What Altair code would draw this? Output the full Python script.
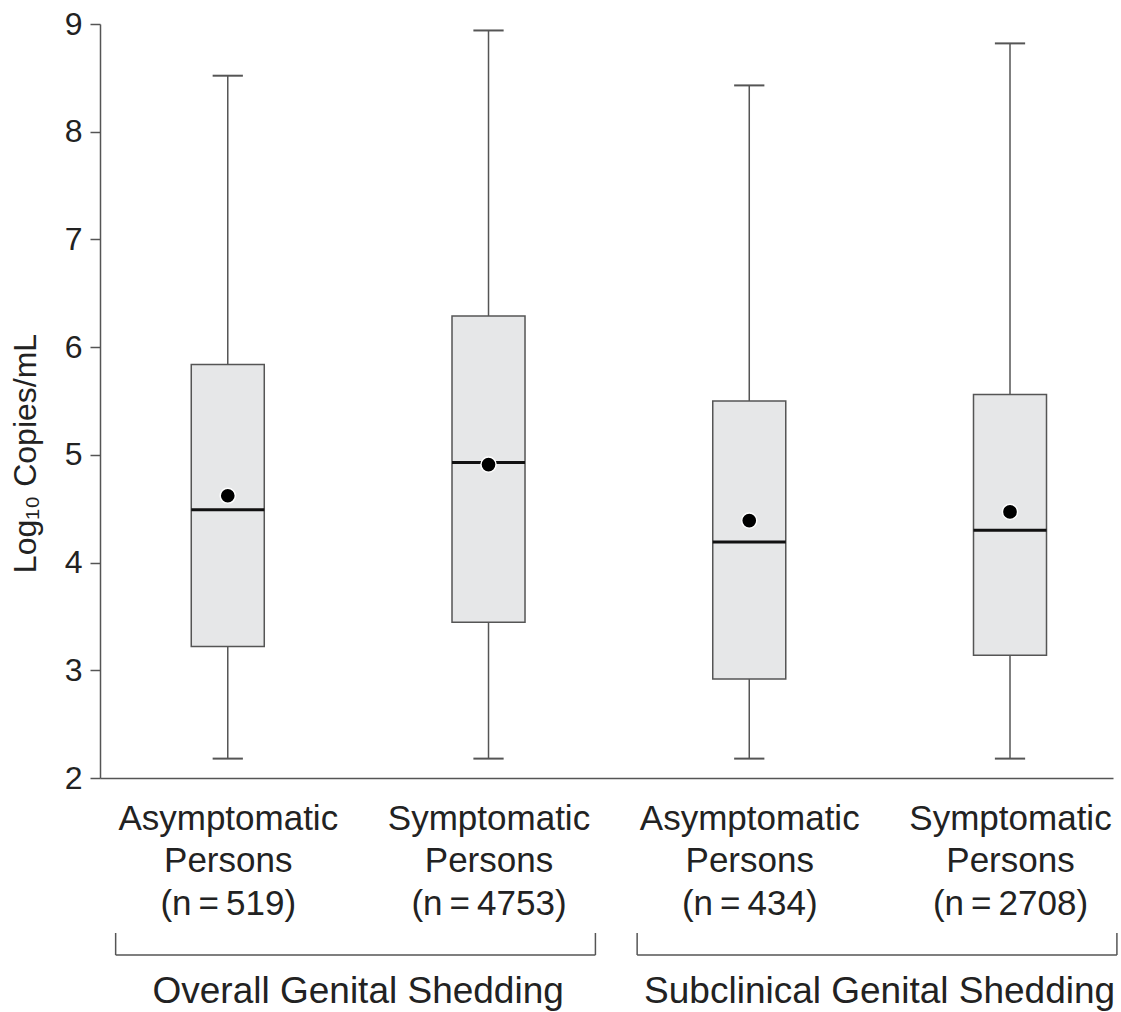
import altair as alt
import pandas as pd

# ---- data ----
line1 = ["Asymptomatic", "Symptomatic", "Asymptomatic", "Symptomatic"]
line2 = ["Persons", "Persons", "Persons", "Persons"]
n_values = [519, 4753, 434, 2708]
whisker_low = [2.18, 2.18, 2.18, 2.18]
q1 = [3.22, 3.445, 2.92, 3.14]
median = [4.49, 4.93, 4.19, 4.30]
mean = [4.62, 4.91, 4.39, 4.47]
q3 = [5.84, 6.29, 5.50, 5.56]
whisker_high = [8.52, 8.94, 8.43, 8.82]

group_names = ["Overall Genital Shedding", "Subclinical Genital Shedding"]
group_first = [0, 2]
group_last = [1, 3]

# ---- layout / style ----
W, H = 1013, 754
FONT = "Liberation Sans"
TXT = "#222222"
GRAY = "#555555"
BOX_HALF = 0.14
CAP_HALF = 0.058

df = pd.DataFrame({
    "idx": list(range(len(line1))),
    "lo": whisker_low, "q1": q1, "med": median, "mean": mean,
    "q3": q3, "hi": whisker_high,
})
gdf = pd.DataFrame({"group": group_names, "first": group_first, "last": group_last})

labels_js = "[" + ",".join(
    "['%s','%s','(n\u2009=\u2009%d)']" % (a, b, n) for a, b, n in zip(line1, line2, n_values)
) + "]"

x_scale = alt.Scale(domain=[-0.49, 3.395], nice=False, zero=False)
y_scale = alt.Scale(domain=[2, 9], nice=False, zero=False)

x_axis = alt.Axis(
    values=[0, 1, 2, 3], labelExpr=labels_js + "[datum.value]", ticks=False,
    title=None, grid=False, domainColor=GRAY, domainWidth=1.5,
    labelFontSize=35, labelLineHeight=42.5, labelPadding=23, labelBaseline="top",
    labelColor=TXT, labelFont=FONT, labelFlush=False, labelOverlap=False,
    labelLimit=0,
)
y_axis = alt.Axis(
    values=list(range(2, 10)), title="Log\u2081\u2080 Copies/mL", grid=False,
    domainColor=GRAY, domainWidth=1.5, tickColor=GRAY, tickWidth=1.5, tickSize=10,
    labelFontSize=32, labelPadding=8, labelColor=TXT, labelFont=FONT,
    titleFontSize=32, titleFont=FONT, titleFontWeight="normal", titleColor=TXT,
    titlePadding=22, titleY=429,
)


def X(field):
    return alt.X(field, type="quantitative", scale=x_scale, axis=x_axis)


def Y(field):
    return alt.Y(field, type="quantitative", scale=y_scale, axis=y_axis)


base = alt.Chart(df).transform_calculate(
    bl=f"datum.idx - {BOX_HALF}", br=f"datum.idx + {BOX_HALF}",
    cl=f"datum.idx - {CAP_HALF}", cr=f"datum.idx + {CAP_HALF}",
)

whisk_low = base.mark_rule(color=GRAY, strokeWidth=1.5).encode(x=X("idx"), y=Y("lo"), y2="q1")
whisk_high = base.mark_rule(color=GRAY, strokeWidth=1.5).encode(x=X("idx"), y=Y("q3"), y2="hi")
cap_low = base.mark_rule(color=GRAY, strokeWidth=2).encode(x=X("cl"), x2="cr", y=Y("lo"))
cap_high = base.mark_rule(color=GRAY, strokeWidth=2).encode(x=X("cl"), x2="cr", y=Y("hi"))
box = base.mark_rect(fill="#e6e7e8", stroke=GRAY, strokeWidth=1.5).encode(
    x=X("bl"), x2="br", y=Y("q1"), y2="q3")
med = base.mark_rule(color="#111111", strokeWidth=3).encode(x=X("bl"), x2="br", y=Y("med"))
dots = base.mark_circle(size=230, color="black", opacity=1, stroke="white",
                        strokeWidth=1.5).encode(x=X("idx"), y=Y("mean"))

gbase = alt.Chart(gdf).transform_calculate(
    s="datum.first - 0.43", e="datum.last + 0.41", m="(datum.first + datum.last) / 2",
)
br_h = gbase.mark_rule(color=GRAY, strokeWidth=1.5).encode(
    x=X("s"), x2="e", y=alt.value(H + 177))
br_l = gbase.mark_rule(color=GRAY, strokeWidth=1.5).encode(
    x=X("s"), y=alt.value(H + 155), y2=alt.value(H + 177))
br_r = gbase.mark_rule(color=GRAY, strokeWidth=1.5).encode(
    x=X("e"), y=alt.value(H + 155), y2=alt.value(H + 177))
glabel = gbase.mark_text(font=FONT, fontSize=37, color=TXT, align="center",
                         baseline="alphabetic").encode(
    x=X("m"), y=alt.value(H + 225), text="group:N")

chart = alt.layer(
    whisk_low, whisk_high, cap_low, cap_high, box, med, dots,
    br_h, br_l, br_r, glabel,
).properties(
    width=W, height=H,
    autosize=alt.AutoSizeParams(type="none"),
    padding={"left": 100, "top": 24, "right": 8, "bottom": 234},
    background="white",
).configure_view(stroke=None)

chart.save("out.html", embed_options={"renderer": "svg", "actions": False})
